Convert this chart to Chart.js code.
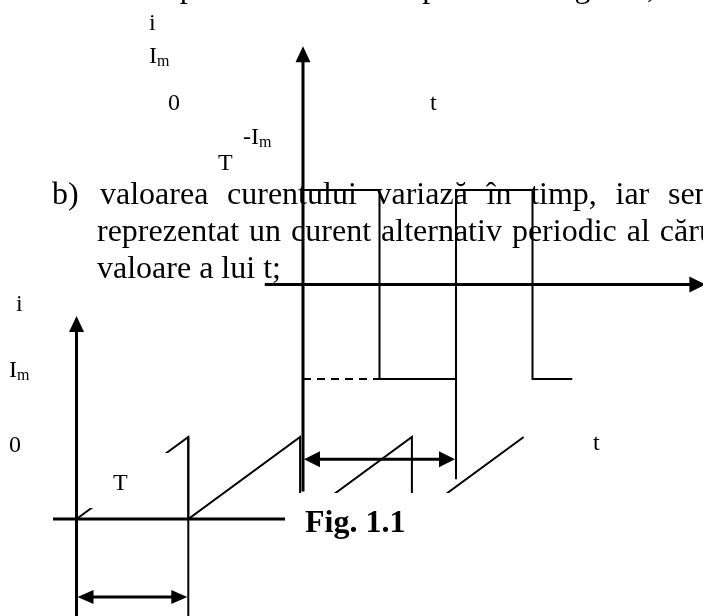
<!DOCTYPE html>
<html lang="ro">
<head>
<meta charset="utf-8">
<title>Fig. 1.1</title>
<script src="https://cdn.jsdelivr.net/npm/chart.js@4/dist/chart.umd.min.js"></script>
<style>
  html, body { margin: 0; padding: 0; background: #fff; overflow: hidden; }
  canvas { display: block; }
</style>
</head>
<body>
<canvas id="fig" width="703" height="616" style="width:703px;height:616px"></canvas>
<script>
// ---- Figure (a): rectangular alternating current, t in periods T, i in units of Im
const squareT = [0, 0.5, 0.5, 1, 1, 1.5, 1.5, 1.76];
const squareI = [1, 1, -1, -1, 1, 1, -1, -1];
const squareRefT = [0, 0.5];          // dashed -Im level
const squareRefI = [-1, -1];
const squareAxisT = [-0.25, 2.63];    // time axis extent (arrow at the end)
const squareAxisI = [-2.19, 2.52];    // current axis extent (arrow at the top)
const squarePeriodT = [0, 1];         // period marker
const squarePeriodI = -1.85;
const squareMarkI = [-1, -2.06];      // extension line at t = T

// ---- Figure (b): sawtooth current
const sawT = [0, 1, 1, 2, 2, 3, 3, 4];
const sawI = [0, 1, 0, 1, 0, 1, 0, 1];
const sawAxisT = [-0.21, 1.865];
const sawAxisI = [-1.2, 2.476];
const sawPeriodT = [0, 1];
const sawPeriodI = -0.95;
const sawMarkI = [1, -1.2];

// ---- Texts
const labelsA = { i: 'i', im: ['I', 'm'], zero: '0', t: 't', neg: ['-I', 'm'], T: 'T' };
const labelsB = { i: 'i', im: ['I', 'm'], zero: '0', t: 't', T: 'T' };
const caption = 'Fig. 1.1';
const textTop = [['în', 97], ['timp', 137], ['iar', 220], ['curentul', 278], ['apare', 408], ['în', 503], ['fig.', 555], ['1.1,', 607]];
const textLine1 = ['valoarea', 'curentului', 'variază', 'în', 'timp,', 'iar', 'sensul'];
const textLine2 = ['reprezentat', 'un', 'curent', 'alternativ', 'periodic', 'al', 'cărui'];
const textLine3 = 'valoare a lui t;';

const W = 703, H = 616;
// pixel frame of each figure: origin and size of one unit
const frameA = { x0: 303, ux: 153, y0: 284.5, uy: 94.5 };
const frameB = { x0: 76.5, ux: 111.8, y0: 519, uy: 82 };

function xRange(f) { return { min: -f.x0 / f.ux, max: (W - f.x0) / f.ux }; }
function yRange(f) { return { min: -(H - f.y0) / f.uy, max: f.y0 / f.uy }; }

const pts = (xs, ys) => xs.map((x, k) => ({ x, y: Array.isArray(ys) ? ys[k] : ys }));

const SERIF = "'Liberation Serif', 'Times New Roman', serif";

function arrowHead(ctx, tx, ty, dx, dy, len, half) {
  const bx = tx - dx * len, by = ty - dy * len;
  ctx.beginPath();
  ctx.moveTo(tx, ty);
  ctx.lineTo(bx - dy * half, by + dx * half);
  ctx.lineTo(bx + dy * half, by - dx * half);
  ctx.closePath();
  ctx.fill();
}

function seg(ctx, x1, y1, x2, y2, w) {
  ctx.lineWidth = w;
  ctx.beginPath();
  ctx.moveTo(x1, y1);
  ctx.lineTo(x2, y2);
  ctx.stroke();
}

function label(ctx, main, sub, x, y) {
  ctx.font = '24px ' + SERIF;
  ctx.fillText(main, x, y);
  if (sub) {
    const w = ctx.measureText(main).width;
    ctx.font = '16px ' + SERIF;
    ctx.fillText(sub, x + w, y + 3);
  }
}

function words(ctx, list, x, y, gap) {
  let cx = x;
  list.forEach(w => {
    ctx.fillText(w, cx, y);
    cx += ctx.measureText(w).width + gap;
  });
}

const drawing = {
  id: 'drawing',
  beforeDatasetsDraw(chart) {
    const ctx = chart.ctx;
    const s = chart.scales;
    ctx.save();
    ctx.fillStyle = '#000';
    ctx.strokeStyle = '#000';
    ctx.lineCap = 'butt';
    ctx.textBaseline = 'alphabetic';

    // running text
    ctx.font = '32px ' + SERIF;
    textTop.forEach(([w, x]) => ctx.fillText(w, x, -3));
    ctx.fillText('b)', 52, 204);
    words(ctx, textLine1, 100, 204, 18.7);
    words(ctx, textLine2, 97, 241, 10);
    ctx.fillText(textLine3, 97, 278);

    // figure (a) axes
    const ax = v => s.xa.getPixelForValue(v), ay = v => s.ya.getPixelForValue(v);
    let yTop = ay(squareAxisI[1]);
    seg(ctx, ax(0), ay(squareAxisI[0]), ax(0), yTop + 14, 3);
    arrowHead(ctx, ax(0), yTop, 0, -1, 16, 7.5);
    let xEnd = ax(squareAxisT[1]);
    seg(ctx, ax(squareAxisT[0]), ay(0), xEnd - 14, ay(0), 3);
    arrowHead(ctx, xEnd, ay(0), 1, 0, 16, 8);
    // period marker (a)
    seg(ctx, ax(1), ay(squareMarkI[0]), ax(1), ay(squareMarkI[1]), 2);
    const pa = ay(squarePeriodI);
    seg(ctx, ax(squarePeriodT[0]) + 10, pa, ax(squarePeriodT[1]) - 10, pa, 3);
    arrowHead(ctx, ax(squarePeriodT[0]) + 1, pa, -1, 0, 16, 8);
    arrowHead(ctx, ax(squarePeriodT[1]) - 1, pa, 1, 0, 16, 8);

    // figure (b) axes
    const bx = v => s.xb.getPixelForValue(v), by = v => s.yb.getPixelForValue(v);
    yTop = by(sawAxisI[1]);
    seg(ctx, bx(0), by(sawAxisI[0]), bx(0), yTop + 14, 3);
    arrowHead(ctx, bx(0), yTop, 0, -1, 16, 7.5);
    seg(ctx, bx(sawAxisT[0]), by(0), bx(sawAxisT[1]), by(0), 3);
    // period marker (b)
    seg(ctx, bx(1), by(sawMarkI[0]), bx(1), by(sawMarkI[1]), 2);
    const pb = by(sawPeriodI);
    seg(ctx, bx(sawPeriodT[0]) + 10, pb, bx(sawPeriodT[1]) - 10, pb, 3);
    arrowHead(ctx, bx(sawPeriodT[0]) + 1, pb, -1, 0, 16, 7);
    arrowHead(ctx, bx(sawPeriodT[1]) - 1, pb, 1, 0, 16, 7);
    ctx.restore();
  },
  afterDatasetsDraw(chart) {
    const ctx = chart.ctx;
    ctx.save();
    ctx.fillStyle = '#000';

    // text frames (white background)
    ctx.fillStyle = '#fff';
    ctx.fillRect(88, 453, 88, 55);
    ctx.fillRect(287, 493, W - 287, 52);
    ctx.fillStyle = '#000';

    // labels of figure (a)
    label(ctx, labelsA.i, null, 149, 30);
    label(ctx, labelsA.im[0], labelsA.im[1], 149, 63);
    label(ctx, labelsA.zero, null, 168, 110);
    label(ctx, labelsA.t, null, 430, 110);
    label(ctx, labelsA.neg[0], labelsA.neg[1], 243, 144);
    label(ctx, labelsA.T, null, 218, 170);

    // labels of figure (b)
    label(ctx, labelsB.i, null, 16, 311);
    label(ctx, labelsB.im[0], labelsB.im[1], 9, 377);
    label(ctx, labelsB.zero, null, 9, 452);
    label(ctx, labelsB.t, null, 593, 450);
    label(ctx, labelsB.T, null, 113, 490);

    ctx.font = 'bold 32px ' + SERIF;
    ctx.fillText(caption, 305, 532);
    ctx.restore();
  }
};

const background = {
  id: 'background',
  beforeDraw(chart) {
    const ctx = chart.ctx;
    ctx.save();
    ctx.fillStyle = '#fff';
    ctx.fillRect(0, 0, chart.width, chart.height);
    ctx.restore();
  }
};

const lineStyle = { showLine: true, borderColor: '#000', backgroundColor: '#000', pointRadius: 0,
  fill: false, tension: 0, borderCapStyle: 'butt', borderJoinStyle: 'miter' };

new Chart(document.getElementById('fig'), {
  type: 'scatter',
  data: {
    datasets: [
      Object.assign({ label: 'curent dreptunghiular', data: pts(squareT, squareI),
        xAxisID: 'xa', yAxisID: 'ya', borderWidth: 2 }, lineStyle),
      Object.assign({ label: '-Im', data: pts(squareRefT, squareRefI),
        xAxisID: 'xa', yAxisID: 'ya', borderWidth: 2, borderDash: [8, 6] }, lineStyle),
      Object.assign({ label: 'curent în dinţi de ferăstrău', data: pts(sawT, sawI),
        xAxisID: 'xb', yAxisID: 'yb', borderWidth: 2 }, lineStyle)
    ]
  },
  options: {
    responsive: false,
    animation: false,
    devicePixelRatio: 1,
    layout: { padding: 0 },
    plugins: { legend: { display: false }, tooltip: { enabled: false }, title: { display: false } },
    scales: {
      xa: Object.assign({ type: 'linear', display: false, axis: 'x' }, xRange(frameA)),
      ya: Object.assign({ type: 'linear', display: false, axis: 'y' }, yRange(frameA)),
      xb: Object.assign({ type: 'linear', display: false, axis: 'x' }, xRange(frameB)),
      yb: Object.assign({ type: 'linear', display: false, axis: 'y' }, yRange(frameB))
    }
  },
  plugins: [background, drawing]
});
</script>
</body>
</html>
